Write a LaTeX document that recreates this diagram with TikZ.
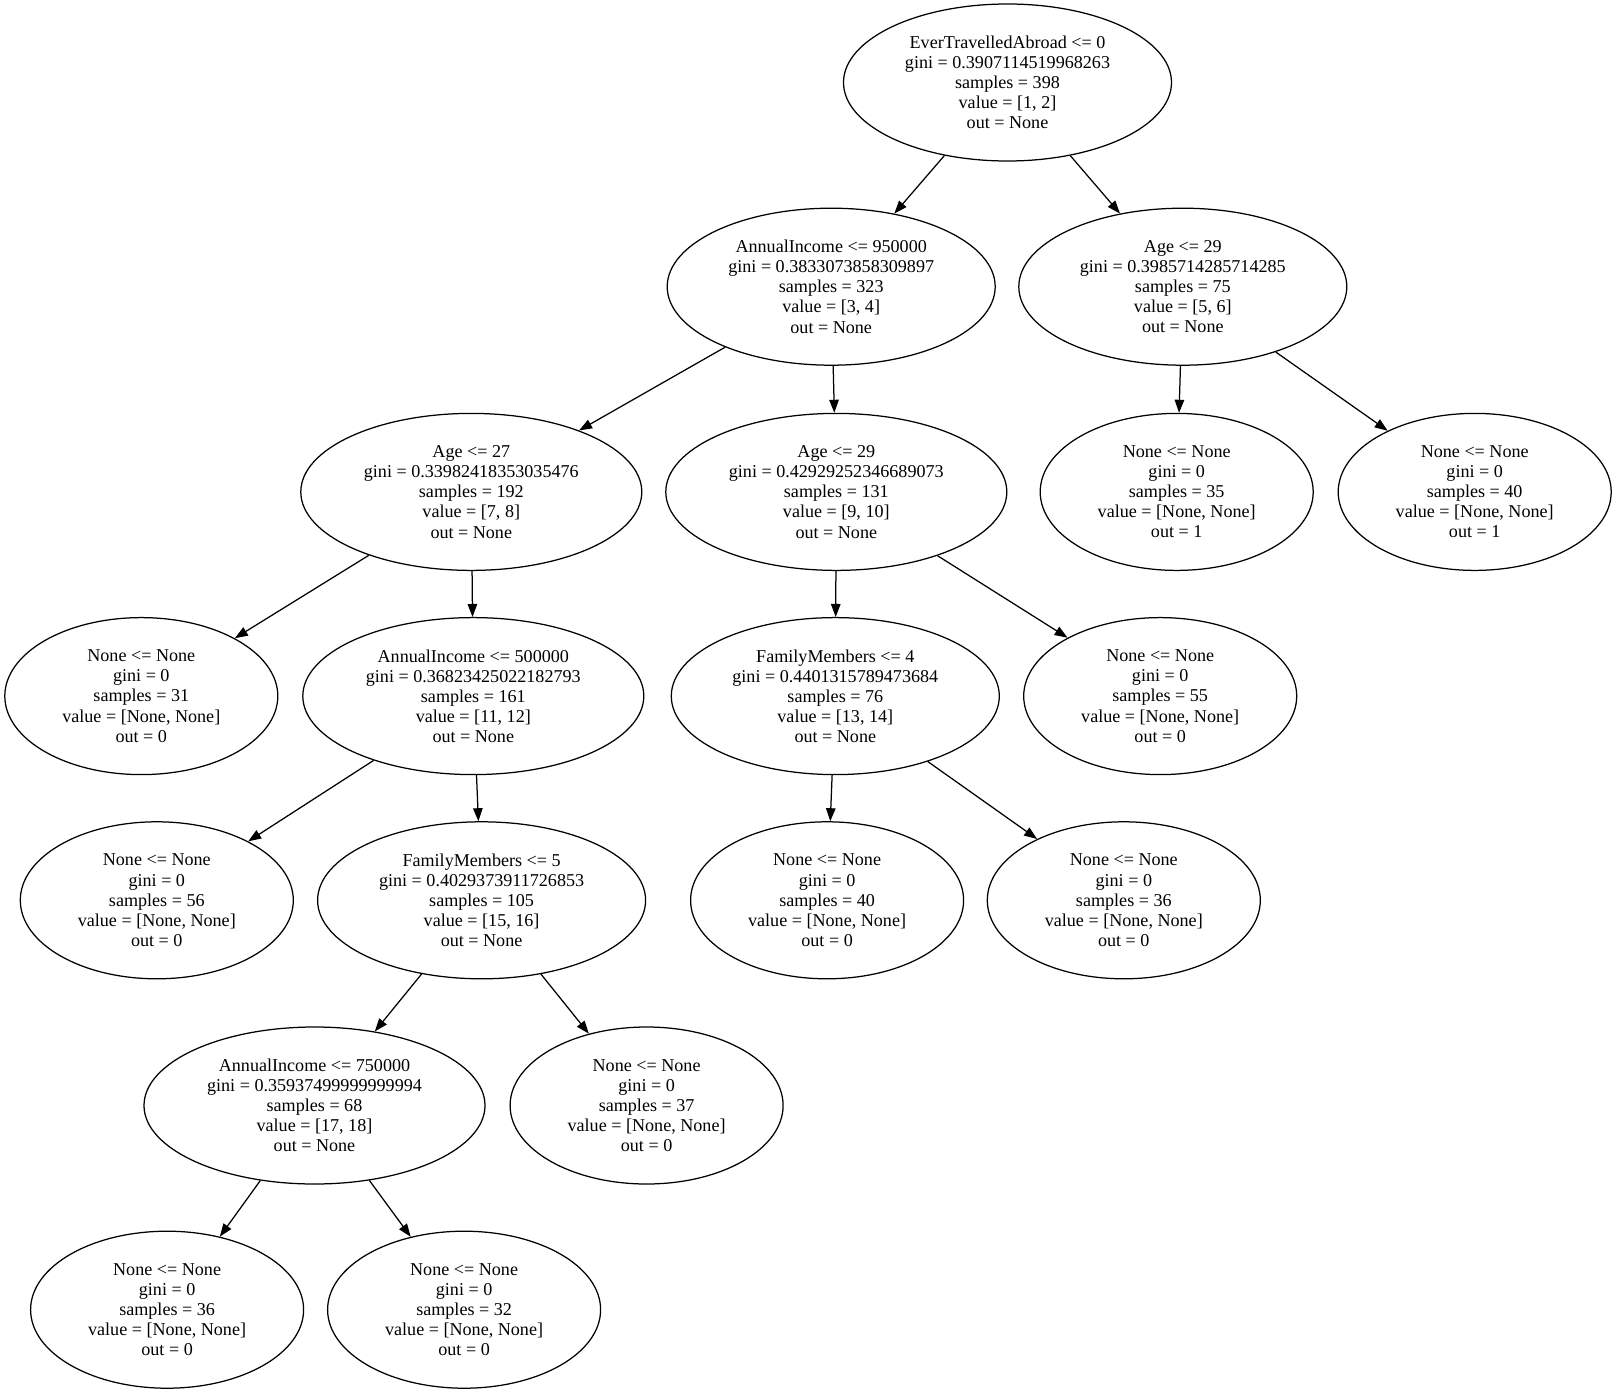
\documentclass[tikz,border=0pt]{standalone}
\usepackage{fontspec}
\setmainfont{Liberation Serif}
\usetikzlibrary{shapes.geometric,arrows.meta}
\begin{document}
\begin{tikzpicture}[x=1pt,y=-1pt,
  tnode/.style={draw,ellipse,line width=1.25pt,inner sep=0pt,align=center,
    minimum height=157pt,font=\fontsize{18.1}{20.1}\selectfont},
  split/.style={tnode,minimum width=328pt},
  wsplit/.style={tnode,minimum width=341pt},
  leaf/.style={tnode,minimum width=273pt},
  link/.style={line width=1.25pt,-{Triangle[length=13pt,width=9.5pt]}}
]
\useasboundingbox (0,0) rectangle (1617,1394);

% level 0
\node[split] (n0) at (1007.5,82.5) {EverTravelledAbroad <= 0\\gini = 0.3907114519968263\\samples = 398\\value = [1, 2]\\out = None};
% level 1
\node[split] (n1) at (831.2,286.7) {AnnualIncome <= 950000\\gini = 0.3833073858309897\\samples = 323\\value = [3, 4]\\out = None};
\node[split] (n2) at (1182.8,286.7) {Age <= 29\\gini = 0.3985714285714285\\samples = 75\\value = [5, 6]\\out = None};
% level 2
\node[wsplit] (n3) at (471.3,491.9) {Age <= 27\\gini = 0.33982418353035476\\samples = 192\\value = [7, 8]\\out = None};
\node[wsplit] (n4) at (836.3,491.9) {Age <= 29\\gini = 0.42929252346689073\\samples = 131\\value = [9, 10]\\out = None};
\node[leaf] (n5) at (1176.7,491.9) {None <= None\\gini = 0\\samples = 35\\value = [None, None]\\out = 1};
\node[leaf] (n6) at (1474.7,491.9) {None <= None\\gini = 0\\samples = 40\\value = [None, None]\\out = 1};
% level 3
\node[leaf] (n7) at (141.3,696.1) {None <= None\\gini = 0\\samples = 31\\value = [None, None]\\out = 0};
\node[wsplit] (n8) at (473.3,696.1) {AnnualIncome <= 500000\\gini = 0.36823425022182793\\samples = 161\\value = [11, 12]\\out = None};
\node[split] (n9) at (835.3,696.1) {FamilyMembers <= 4\\gini = 0.4401315789473684\\samples = 76\\value = [13, 14]\\out = None};
\node[leaf] (n10) at (1160.2,696.1) {None <= None\\gini = 0\\samples = 55\\value = [None, None]\\out = 0};
% level 4
\node[leaf] (n11) at (156.8,900.3) {None <= None\\gini = 0\\samples = 56\\value = [None, None]\\out = 0};
\node[split] (n12) at (481.6,900.3) {FamilyMembers <= 5\\gini = 0.4029373911726853\\samples = 105\\value = [15, 16]\\out = None};
\node[leaf] (n13) at (827.1,900.3) {None <= None\\gini = 0\\samples = 40\\value = [None, None]\\out = 0};
\node[leaf] (n14) at (1123.8,900.3) {None <= None\\gini = 0\\samples = 36\\value = [None, None]\\out = 0};
% level 5
\node[wsplit] (n15) at (314.5,1105.5) {AnnualIncome <= 750000\\gini = 0.35937499999999994\\samples = 68\\value = [17, 18]\\out = None};
\node[leaf] (n16) at (646.6,1105.5) {None <= None\\gini = 0\\samples = 37\\value = [None, None]\\out = 0};
% level 6
\node[leaf] (n17) at (167.1,1309.7) {None <= None\\gini = 0\\samples = 36\\value = [None, None]\\out = 0};
\node[leaf] (n18) at (464.1,1309.7) {None <= None\\gini = 0\\samples = 32\\value = [None, None]\\out = 0};

% connectors
\draw[link] (n0) -- (n1);
\draw[link] (n0) -- (n2);
\draw[link] (n1) -- (n3);
\draw[link] (n1) -- (n4);
\draw[link] (n2) -- (n5);
\draw[link] (n2) -- (n6);
\draw[link] (n3) -- (n7);
\draw[link] (n3) -- (n8);
\draw[link] (n4) -- (n9);
\draw[link] (n4) -- (n10);
\draw[link] (n8) -- (n11);
\draw[link] (n8) -- (n12);
\draw[link] (n9) -- (n13);
\draw[link] (n9) -- (n14);
\draw[link] (n12) -- (n15);
\draw[link] (n12) -- (n16);
\draw[link] (n15) -- (n17);
\draw[link] (n15) -- (n18);
\end{tikzpicture}
\end{document}
